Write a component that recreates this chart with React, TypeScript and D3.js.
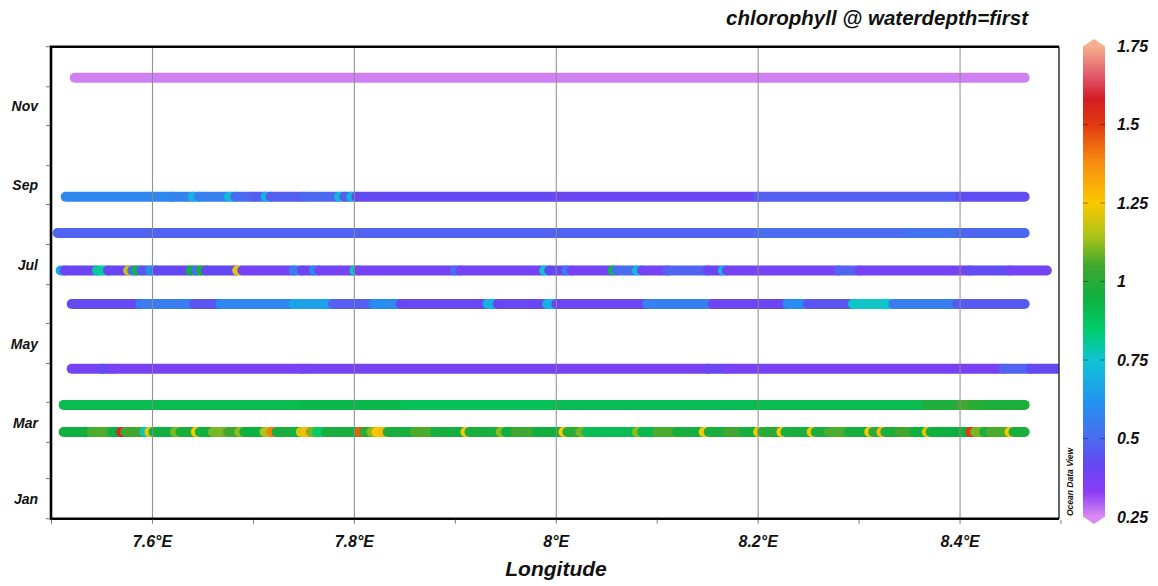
import React from 'react';
import * as d3 from 'd3';

const W = 1158;
const H = 586;

// ---- data ----
const xTickValues = [7.5, 7.6, 7.7, 7.8, 7.9, 8.0, 8.1, 8.2, 8.3, 8.4, 8.5];
const xLabelValues = [7.6, 7.8, 8.0, 8.2, 8.4];
const xLabelTexts = ['7.6°E', '7.8°E', '8°E', '8.2°E', '8.4°E'];
const monthLabels = ['Jan', 'Mar', 'May', 'Jul', 'Sep', 'Nov'];
const monthLabelIdx = [0, 2, 4, 6, 8, 10];
const cbTicks = [0.25, 0.5, 0.75, 1, 1.25, 1.5, 1.75];
const cbTickTexts = ['0.25', '0.5', '0.75', '1', '1.25', '1.5', '1.75'];

// colour map (ODV-like)
const cStops = [0.25, 0.33, 0.42, 0.5, 0.62, 0.75, 0.85, 0.95, 1.05, 1.15, 1.25, 1.38, 1.5, 1.58, 1.65, 1.75];
const cColors = ['#d98af2', '#8a3cf5', '#6448f2', '#4a6cf0', '#2294f0', '#10c4d4', '#00cc68', '#10b040',
  '#40a830', '#b0c418', '#fcc800', '#f88c10', '#e03a10', '#d41c24', '#e05468', '#f4b08c'];

// cruise tracks: date, start / end longitude, runs of [longitude, chlorophyll]
const trackDates = ['2023-12-08', '2023-09-07', '2023-08-10', '2023-07-12', '2023-06-16', '2023-04-27', '2023-03-30', '2023-03-09'];
const trackLonStart = [7.523, 7.514, 7.506, 7.509, 7.520, 7.520, 7.512, 7.512];
const trackLonEnd = [8.464, 8.464, 8.464, 8.486, 8.464, 8.515, 8.464, 8.464];

const runsDec: [number, number][] = [[7.523, 0.26]];
const runsSep: [number, number][] = [
  [7.514, 0.58], [7.62, 0.57], [7.64, 0.7], [7.646, 0.56], [7.676, 0.72], [7.682, 0.5], [7.70, 0.47],
  [7.712, 0.7], [7.717, 0.47], [7.75, 0.49], [7.785, 0.72], [7.79, 0.47], [7.797, 0.70], [7.802, 0.42],
  [8.0, 0.41], [8.2, 0.47], [8.40, 0.43]];
const runsAug: [number, number][] = [[7.506, 0.48], [8.2, 0.5], [8.35, 0.52], [8.40, 0.49]];
const runsJul: [number, number][] = [
  [7.509, 0.68], [7.513, 0.4], [7.545, 0.8], [7.556, 0.4], [7.576, 1.18], [7.58, 0.5], [7.584, 0.92],
  [7.589, 0.45], [7.598, 0.62], [7.604, 0.42], [7.638, 0.95], [7.643, 0.5], [7.648, 0.97], [7.653, 0.42],
  [7.684, 1.22], [7.689, 0.38], [7.74, 0.55], [7.748, 0.4], [7.76, 0.6], [7.765, 0.38], [7.80, 0.78],
  [7.804, 0.38], [7.90, 0.52], [7.905, 0.38], [7.988, 0.75], [7.993, 0.42], [8.01, 0.55], [8.015, 0.38],
  [8.056, 0.92], [8.06, 0.5], [8.08, 0.72], [8.085, 0.38], [8.11, 0.48], [8.15, 0.4], [8.165, 0.7],
  [8.169, 0.38], [8.28, 0.48], [8.30, 0.38], [8.41, 0.43], [8.45, 0.38]];
const runsJun: [number, number][] = [
  [7.520, 0.42], [7.588, 0.55], [7.641, 0.45], [7.667, 0.58], [7.740, 0.66], [7.779, 0.47], [7.819, 0.6],
  [7.846, 0.41], [7.932, 0.7], [7.942, 0.41], [7.991, 0.7], [8.0, 0.4], [8.09, 0.56], [8.155, 0.4],
  [8.229, 0.6], [8.249, 0.45], [8.294, 0.76], [8.334, 0.55], [8.397, 0.46]];
const runsApr: [number, number][] = [
  [7.520, 0.38], [7.55, 0.42], [7.56, 0.37], [7.75, 0.38], [8.0, 0.37], [8.15, 0.4], [8.17, 0.37],
  [8.443, 0.48], [8.47, 0.42]];
const runsMar30: [number, number][] = [
  [7.512, 0.91], [7.75, 0.92], [7.85, 0.89], [8.0, 0.9], [8.2, 0.91], [8.367, 0.98], [8.4, 1.05],
  [8.413, 1.0], [8.43, 0.97]];
const runsMar9: [number, number][] = [
  [7.512, 0.95], [7.54, 1.06], [7.56, 0.95], [7.569, 1.55], [7.573, 1.05], [7.592, 0.78], [7.597, 1.22],
  [7.601, 0.95], [7.622, 1.1], [7.628, 0.97], [7.643, 1.25], [7.647, 0.95], [7.660, 1.1], [7.675, 1.05],
  [7.686, 1.12], [7.691, 0.95], [7.711, 1.15], [7.718, 1.4], [7.723, 0.97], [7.747, 1.2], [7.752, 1.28],
  [7.757, 1.1], [7.763, 0.85], [7.772, 0.97], [7.805, 1.45], [7.81, 1.0], [7.817, 1.12], [7.822, 1.25],
  [7.828, 1.28], [7.833, 0.97], [7.86, 1.06], [7.88, 0.96], [7.91, 1.25], [7.914, 0.97], [7.945, 1.12],
  [7.95, 0.95], [7.96, 1.05], [7.98, 0.95], [8.007, 1.25], [8.011, 1.0], [8.024, 1.1], [8.03, 0.9],
  [8.08, 1.12], [8.085, 0.92], [8.1, 1.06], [8.12, 0.96], [8.146, 1.25], [8.151, 0.97], [8.17, 1.05],
  [8.185, 0.96], [8.2, 1.25], [8.204, 1.0], [8.223, 1.25], [8.227, 0.97], [8.253, 1.25], [8.257, 0.97],
  [8.27, 1.06], [8.29, 0.96], [8.31, 1.25], [8.314, 1.0], [8.322, 1.28], [8.326, 0.97], [8.34, 1.05],
  [8.355, 0.95], [8.367, 1.22], [8.371, 0.95], [8.410, 1.5], [8.415, 1.1], [8.424, 0.97], [8.43, 1.06],
  [8.449, 1.25], [8.453, 0.97]];
const trackRuns = [runsDec, runsSep, runsAug, runsJul, runsJun, runsApr, runsMar30, runsMar9];

const FONT = '"Liberation Sans", Arial, Helvetica, sans-serif';

export default function App() {
  const left = 51, right = 1059, top = 46.7, bottom = 518.7;
  const x = d3.scaleLinear().domain([7.5, 8.5]).range([51.5, 1061]);
  const y = d3.scaleTime().domain([new Date(2023, 0, 1), new Date(2024, 0, 1)]).range([bottom, top]);
  const color = d3.scaleLinear<string>().domain(cStops).range(cColors).interpolate(d3.interpolateRgb).clamp(true);
  const cb = d3.scaleLinear().domain([0.25, 1.75]).range([517, 46]);
  const cbL = 1083, cbR = 1105, cbC = (cbL + cbR) / 2;

  const monthStarts = d3.timeMonth.range(new Date(2023, 0, 1), new Date(2024, 0, 2));
  const parse = d3.timeParse('%Y-%m-%d');

  const textStyle = { fontFamily: FONT, fontWeight: 'bold' as const, fontStyle: 'italic' as const };

  return (
    <svg width={W} height={H} style={{ position: 'absolute', left: 0, top: 0, background: '#fff' }}>
      <defs>
        <clipPath id="plotclip">
          <rect x={left} y={top} width={right - left} height={bottom - top} />
        </clipPath>
        <linearGradient id="cbgrad" x1="0" y1="1" x2="0" y2="0">
          {cStops.map((s, i) => (
            <stop key={i} offset={(s - 0.25) / 1.5} stopColor={cColors[i]} />
          ))}
        </linearGradient>
      </defs>
      <rect x={0} y={0} width={W} height={H} fill="#fff" />

      {/* tracks */}
      <g clipPath="url(#plotclip)">
        {trackRuns.map((runs, ti) => {
          const yy = y(parse(trackDates[ti]) as Date);
          return (
            <g key={ti}>
              {runs.map((r, ri) => {
                const lon0 = r[0];
                const lon1 = ri < runs.length - 1 ? runs[ri + 1][0] : trackLonEnd[ti];
                const a = Math.max(lon0, trackLonStart[ti]);
                return (
                  <line key={ri} x1={x(a)} x2={x(lon1)} y1={yy} y2={yy}
                    stroke={color(r[1])} strokeWidth={10} strokeLinecap="round" />
                );
              })}
            </g>
          );
        })}
      </g>

      {/* grid lines */}
      {xLabelValues.map((v, i) => (
        <line key={i} x1={x(v)} x2={x(v)} y1={top} y2={bottom} stroke="#8a8a8a" strokeWidth={1} />
      ))}

      {/* frame */}
      <line x1={right} x2={right} y1={top} y2={bottom} stroke="#333" strokeWidth={1.5} />
      <path d={`M${right},${top}H${left}V${bottom}H${right}`} fill="none" stroke="#000" strokeWidth={2.6} />

      {/* x ticks */}
      {xTickValues.map((v, i) => (
        <line key={i} x1={x(v)} x2={x(v)} y1={bottom + 1} y2={bottom + 5} stroke="#777" strokeWidth={1} />
      ))}
      {xLabelValues.map((v, i) => (
        <text key={i} x={x(v)} y={547} textAnchor="middle" fontSize={16} {...textStyle} fill="#111">
          {xLabelTexts[i]}
        </text>
      ))}
      <text x={556} y={576} textAnchor="middle" fontSize={21} {...textStyle} fill="#111">Longitude</text>

      {/* y ticks */}
      {monthStarts.map((d, i) => (
        <line key={i} x1={left - 5} x2={left - 1} y1={y(d)} y2={y(d)} stroke="#777" strokeWidth={1} />
      ))}
      {monthLabels.map((m, i) => {
        const mid = new Date(2023, monthLabelIdx[i], 16);
        return (
          <text key={i} x={38} y={y(mid) + 4.5} textAnchor="end" fontSize={14} {...textStyle} fill="#111">{m}</text>
        );
      })}

      {/* title */}
      <text x={1028} y={25} textAnchor="end" fontSize={20.5} {...textStyle} fill="#111">
        chlorophyll @ waterdepth=first
      </text>

      {/* colour bar */}
      <rect x={cbL} y={cb(1.75)} width={cbR - cbL} height={cb(0.25) - cb(1.75)} fill="url(#cbgrad)" />
      <polygon points={`${cbL},${cb(1.75) + 0.5} ${cbC},${cb(1.75) - 7} ${cbR},${cb(1.75) + 0.5}`} fill={color(1.75)} />
      <polygon points={`${cbL},${cb(0.25) - 0.5} ${cbC},${cb(0.25) + 7} ${cbR},${cb(0.25) - 0.5}`} fill={color(0.25)} />
      {cbTicks.slice(1, -1).map((v, i) => (
        <g key={i} stroke="#000" strokeOpacity={0.35} strokeWidth={1.2}>
          <line x1={cbL} x2={cbL + 5} y1={cb(v)} y2={cb(v)} />
          <line x1={cbR - 5} x2={cbR} y1={cb(v)} y2={cb(v)} />
        </g>
      ))}
      {cbTicks.map((v, i) => (
        <text key={i} x={1117} y={cb(v) + 5.5} fontSize={16} {...textStyle} fill="#111">{cbTickTexts[i]}</text>
      ))}
      <text transform={`translate(1073,516) rotate(-90)`} fontSize={8.5} {...textStyle} fill="#111">
        Ocean Data View
      </text>
    </svg>
  );
}
